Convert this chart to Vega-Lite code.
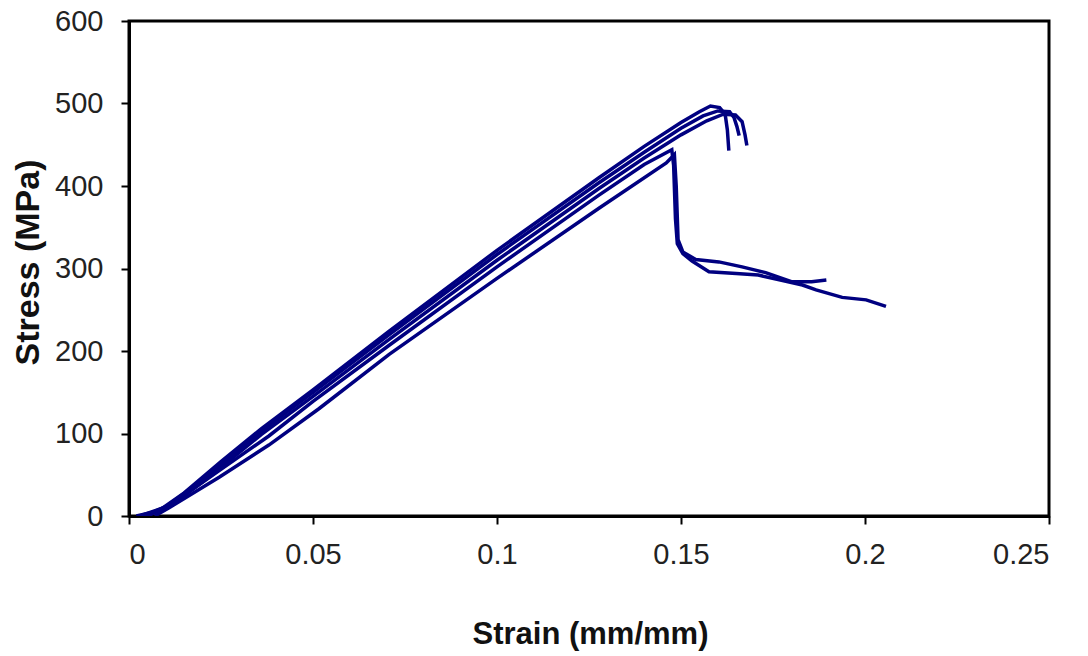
{
  "$schema": "https://vega.github.io/schema/vega-lite/v6.json",
  "width": 920,
  "height": 495,
  "autosize": "none",
  "padding": {"left": 129, "top": 21, "right": 39, "bottom": 140},
  "background": "white",
  "config": {
    "view": {"stroke": "black", "strokeWidth": 3},
    "axis": {
      "grid": false,
      "domainColor": "black",
      "domainWidth": 3,
      "tickColor": "black",
      "tickWidth": 2,
      "tickSize": 8,
      "labelFont": "Liberation Sans, Arial, sans-serif",
      "labelFontSize": 29,
      "labelColor": "#222222",
      "titleFont": "Liberation Sans, Arial, sans-serif",
      "titleFontSize": 31,
      "titleFontWeight": "bold",
      "titleColor": "#111111"
    }
  },
  "data": {
    "values": [
      {"s": "A", "i": 1, "x": 0.002, "y": 0},
      {"s": "A", "i": 2, "x": 0.008, "y": 6},
      {"s": "A", "i": 3, "x": 0.015, "y": 28},
      {"s": "A", "i": 4, "x": 0.025, "y": 66},
      {"s": "A", "i": 5, "x": 0.036, "y": 106},
      {"s": "A", "i": 6, "x": 0.05, "y": 153},
      {"s": "A", "i": 7, "x": 0.0707, "y": 224},
      {"s": "A", "i": 8, "x": 0.1, "y": 322},
      {"s": "A", "i": 9, "x": 0.1277, "y": 410},
      {"s": "A", "i": 10, "x": 0.14, "y": 448},
      {"s": "A", "i": 11, "x": 0.15, "y": 477},
      {"s": "A", "i": 12, "x": 0.155, "y": 490},
      {"s": "A", "i": 13, "x": 0.158, "y": 497},
      {"s": "A", "i": 14, "x": 0.1605, "y": 495},
      {"s": "A", "i": 15, "x": 0.162, "y": 487},
      {"s": "A", "i": 16, "x": 0.1626, "y": 468},
      {"s": "A", "i": 17, "x": 0.163, "y": 443},

      {"s": "B", "i": 1, "x": 0.003, "y": 0},
      {"s": "B", "i": 2, "x": 0.01, "y": 11},
      {"s": "B", "i": 3, "x": 0.02, "y": 44},
      {"s": "B", "i": 4, "x": 0.036, "y": 103},
      {"s": "B", "i": 5, "x": 0.05, "y": 150},
      {"s": "B", "i": 6, "x": 0.0707, "y": 220},
      {"s": "B", "i": 7, "x": 0.1, "y": 317},
      {"s": "B", "i": 8, "x": 0.1277, "y": 404},
      {"s": "B", "i": 9, "x": 0.14, "y": 441},
      {"s": "B", "i": 10, "x": 0.15, "y": 470},
      {"s": "B", "i": 11, "x": 0.156, "y": 485},
      {"s": "B", "i": 12, "x": 0.16, "y": 491},
      {"s": "B", "i": 13, "x": 0.1632, "y": 490},
      {"s": "B", "i": 14, "x": 0.1644, "y": 483},
      {"s": "B", "i": 15, "x": 0.1652, "y": 472},
      {"s": "B", "i": 16, "x": 0.1658, "y": 461},

      {"s": "C", "i": 1, "x": 0.004, "y": 0},
      {"s": "C", "i": 2, "x": 0.012, "y": 15},
      {"s": "C", "i": 3, "x": 0.022, "y": 48},
      {"s": "C", "i": 4, "x": 0.036, "y": 99},
      {"s": "C", "i": 5, "x": 0.05, "y": 145},
      {"s": "C", "i": 6, "x": 0.0707, "y": 214},
      {"s": "C", "i": 7, "x": 0.1, "y": 310},
      {"s": "C", "i": 8, "x": 0.1277, "y": 397},
      {"s": "C", "i": 9, "x": 0.14, "y": 434},
      {"s": "C", "i": 10, "x": 0.15, "y": 462},
      {"s": "C", "i": 11, "x": 0.157, "y": 479},
      {"s": "C", "i": 12, "x": 0.1615, "y": 487},
      {"s": "C", "i": 13, "x": 0.1648, "y": 486},
      {"s": "C", "i": 14, "x": 0.1666, "y": 478},
      {"s": "C", "i": 15, "x": 0.1674, "y": 462},
      {"s": "C", "i": 16, "x": 0.1679, "y": 449},

      {"s": "D", "i": 1, "x": 0.007, "y": 0},
      {"s": "D", "i": 2, "x": 0.0109, "y": 10},
      {"s": "D", "i": 3, "x": 0.0245, "y": 47},
      {"s": "D", "i": 4, "x": 0.038, "y": 86},
      {"s": "D", "i": 5, "x": 0.0516, "y": 130},
      {"s": "D", "i": 6, "x": 0.0707, "y": 196},
      {"s": "D", "i": 7, "x": 0.1, "y": 288},
      {"s": "D", "i": 8, "x": 0.1277, "y": 373},
      {"s": "D", "i": 9, "x": 0.146, "y": 428},
      {"s": "D", "i": 10, "x": 0.1482, "y": 438},
      {"s": "D", "i": 11, "x": 0.1487, "y": 400},
      {"s": "D", "i": 12, "x": 0.1492, "y": 335},
      {"s": "D", "i": 13, "x": 0.1505, "y": 320},
      {"s": "D", "i": 14, "x": 0.154, "y": 311},
      {"s": "D", "i": 15, "x": 0.1603, "y": 308},
      {"s": "D", "i": 16, "x": 0.1666, "y": 302},
      {"s": "D", "i": 17, "x": 0.173, "y": 295},
      {"s": "D", "i": 18, "x": 0.18, "y": 284},
      {"s": "D", "i": 19, "x": 0.1855, "y": 284},
      {"s": "D", "i": 20, "x": 0.1895, "y": 286},

      {"s": "E", "i": 1, "x": 0.005, "y": 0},
      {"s": "E", "i": 2, "x": 0.0109, "y": 12},
      {"s": "E", "i": 3, "x": 0.0245, "y": 55},
      {"s": "E", "i": 4, "x": 0.038, "y": 97},
      {"s": "E", "i": 5, "x": 0.05, "y": 139},
      {"s": "E", "i": 6, "x": 0.0707, "y": 207},
      {"s": "E", "i": 7, "x": 0.1, "y": 302},
      {"s": "E", "i": 8, "x": 0.1277, "y": 389},
      {"s": "E", "i": 9, "x": 0.14, "y": 426},
      {"s": "E", "i": 10, "x": 0.1475, "y": 444},
      {"s": "E", "i": 11, "x": 0.148, "y": 425},
      {"s": "E", "i": 12, "x": 0.1485, "y": 360},
      {"s": "E", "i": 13, "x": 0.149, "y": 330},
      {"s": "E", "i": 14, "x": 0.1505, "y": 318},
      {"s": "E", "i": 15, "x": 0.153, "y": 309},
      {"s": "E", "i": 16, "x": 0.1576, "y": 296},
      {"s": "E", "i": 17, "x": 0.165, "y": 294},
      {"s": "E", "i": 18, "x": 0.171, "y": 292},
      {"s": "E", "i": 19, "x": 0.177, "y": 286},
      {"s": "E", "i": 20, "x": 0.183, "y": 280},
      {"s": "E", "i": 21, "x": 0.1867, "y": 274},
      {"s": "E", "i": 22, "x": 0.1938, "y": 265},
      {"s": "E", "i": 23, "x": 0.2003, "y": 262},
      {"s": "E", "i": 24, "x": 0.2057, "y": 254}
    ]
  },
  "mark": {"type": "line", "color": "#000080", "strokeWidth": 3.5, "clip": true},
  "encoding": {
    "x": {
      "field": "x",
      "type": "quantitative",
      "scale": {"domain": [0, 0.25], "nice": false, "zero": true},
      "axis": {
        "values": [0, 0.05, 0.1, 0.15, 0.2, 0.25],
        "format": "~g",
        "labelPadding": 16,
        "title": "Strain (mm/mm)",
        "titleX": 461,
        "titleY": 118,
        "titleAlign": "center",
        "titleBaseline": "middle"
      }
    },
    "y": {
      "field": "y",
      "type": "quantitative",
      "scale": {"domain": [0, 600], "nice": false},
      "axis": {
        "values": [0, 100, 200, 300, 400, 500, 600],
        "labelPadding": 18,
        "title": "Stress (MPa)",
        "titleFontSize": 34,
        "titleAngle": -90,
        "titleX": -101,
        "titleY": 241,
        "titleAlign": "center",
        "titleBaseline": "middle"
      }
    },
    "detail": {"field": "s", "type": "nominal"},
    "order": {"field": "i", "type": "quantitative"}
  }
}
